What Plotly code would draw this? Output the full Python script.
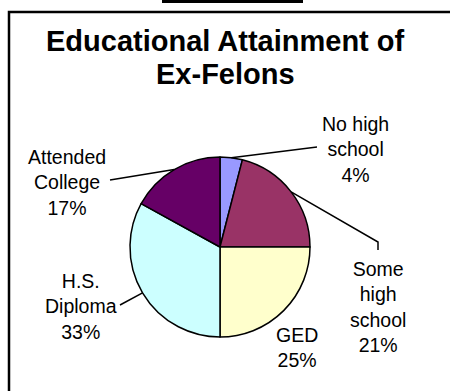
import math
import plotly.graph_objects as go

# Share of ex-felons by highest level of education
categories = ["No high school", "Some high school", "GED", "H.S. Diploma", "Attended College"]
shares = [4, 21, 25, 33, 17]
label_lines = [["No high", "school"], ["Some", "high", "school"], ["GED"], ["H.S.", "Diploma"], ["Attended", "College"]]
colors = ["#9999FF", "#993366", "#FFFFCC", "#CCFFFF", "#660066"]
title_lines = ["Educational Attainment of", "Ex-Felons"]

W, H = 450, 391
PIE_CX, PIE_CY, PIE_R = 220, 247, 90

# label centres (px) and leader-line waypoints running from the label toward the slice
label_pos = {
    "No high school": (355, 149),
    "Some high school": (378, 307),
    "GED": (297, 347),
    "H.S. Diploma": (81, 306),
    "Attended College": (67, 182),
}
leader_pts = {
    "No high school": [(317, 147)],
    "Some high school": [(378, 250), (378, 242)],
    "H.S. Diploma": [(120, 305)],
    "Attended College": [(110, 180)],
}
title_y = [41, 74]


def px(x):
    return x / W


def py(y):
    return (H - y) / H


fig = go.Figure(
    go.Pie(
        labels=categories,
        values=shares,
        sort=False,
        direction="clockwise",
        rotation=0,
        marker=dict(colors=colors, line=dict(color="black", width=1.5)),
        textinfo="none",
        hoverinfo="label+percent",
        showlegend=False,
        domain=dict(
            x=[px(PIE_CX - PIE_R), px(PIE_CX + PIE_R)],
            y=[py(PIE_CY + PIE_R), py(PIE_CY - PIE_R)],
        ),
    )
)

total = sum(shares)
cum = 0.0
shapes = []
annotations = []
for name, v, lines in zip(categories, shares, label_lines):
    mid = 2 * math.pi * (cum + v / 2) / total
    cum += v
    ax = PIE_CX + PIE_R * math.sin(mid)
    ay = PIE_CY - PIE_R * math.cos(mid)
    if name in leader_pts:
        pts = leader_pts[name] + [(ax, ay)]
        path = "M " + " L ".join(f"{px(x)},{py(y)}" for x, y in pts)
        shapes.append(dict(type="path", xref="paper", yref="paper", path=path,
                           line=dict(color="black", width=1.5)))
    lx, ly = label_pos[name]
    text = "<br>".join(lines + [f"{round(100 * v / total)}%"])
    annotations.append(dict(
        x=px(lx), y=py(ly), xref="paper", yref="paper", text=text,
        showarrow=False, xanchor="center", yanchor="middle", align="center",
        font=dict(family="Liberation Sans, Arial, sans-serif", size=19.5, color="black"),
    ))

# chart title, one annotation per line for tighter leading
for line, ty in zip(title_lines, title_y):
    annotations.append(dict(
        x=px(225), y=py(ty), xref="paper", yref="paper",
        text=f"<b>{line}</b>",
        showarrow=False, xanchor="center", yanchor="middle",
        font=dict(family="Liberation Sans, Arial, sans-serif", size=29, color="black"),
    ))

# chart frame and the bar above it
shapes.append(dict(type="path", xref="paper", yref="paper",
                   path=f"M {px(9)},{py(400)} L {px(9)},{py(12)} L {px(460)},{py(12)}",
                   line=dict(color="black", width=2.5)))
shapes.append(dict(type="rect", xref="paper", yref="paper",
                   x0=px(162), x1=px(303), y0=py(3), y1=py(-5),
                   fillcolor="black", line=dict(width=0)))

fig.update_layout(
    width=W, height=H,
    margin=dict(l=0, r=0, t=0, b=0),
    paper_bgcolor="white", plot_bgcolor="white",
    shapes=shapes, annotations=annotations,
)

fig.write_html("out.html")
